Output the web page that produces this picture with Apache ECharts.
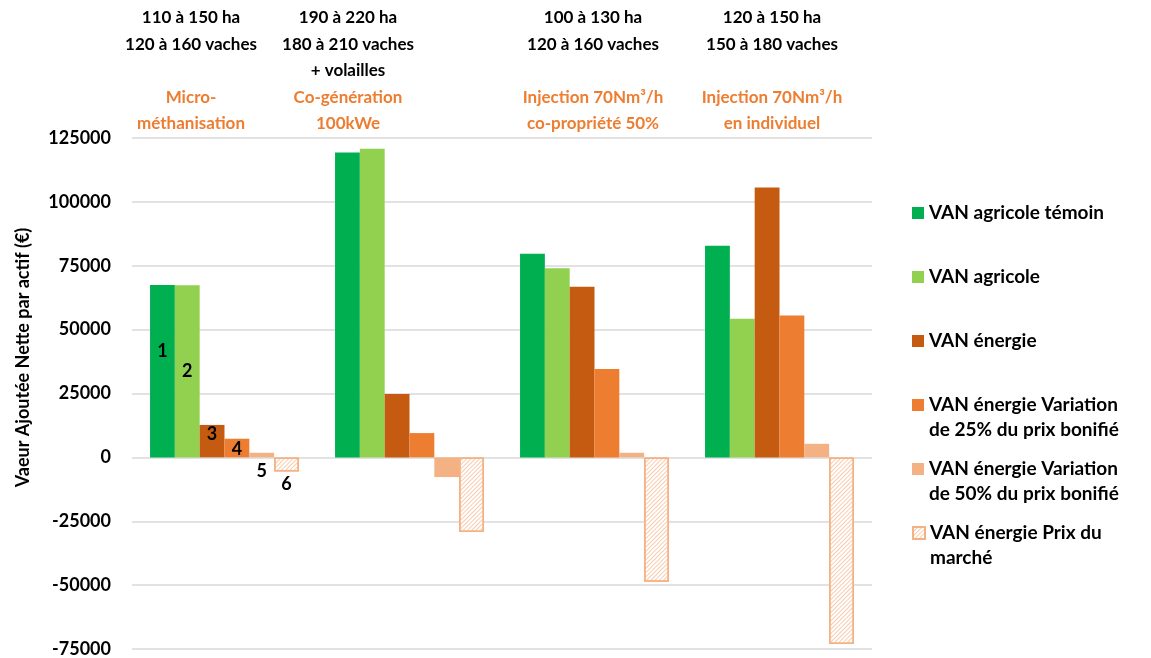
<!DOCTYPE html>
<html>
<head>
<meta charset="utf-8">
<script src="https://cdn.jsdelivr.net/npm/echarts@6/dist/echarts.min.js"></script>
<style>
  html, body { margin: 0; padding: 0; background: #fff; }
  #main { width: 1151px; height: 658px; }
</style>
</head>
<body>
<div id="main"></div>
<script>
// donnees
var categories = ['Micro-méthanisation', 'Co-génération 100kWe', 'Injection 70Nm³/h co-propriété 50%', 'Injection 70Nm³/h en individuel'];
var farmLines = [
	['110 à 150 ha', '120 à 160 vaches', ''],
	['190 à 220 ha', '180 à 210 vaches', '+ volailles'],
	['100 à 130 ha', '120 à 160 vaches', ''],
	['120 à 150 ha', '150 à 180 vaches', '']
];
var typeLines = [
	['Micro-', 'méthanisation'],
	['Co-génération', '100kWe'],
	['Injection 70Nm³/h', 'co-propriété 50%'],
	['Injection 70Nm³/h', 'en individuel']
];
var legendLines = [
	['VAN agricole témoin'],
	['VAN agricole'],
	['VAN énergie'],
	['VAN énergie Variation', 'de 25% du prix bonifié'],
	['VAN énergie Variation', 'de 50% du prix bonifié'],
	['VAN énergie Prix du', 'marché']
];
var vanTemoin   = [67500, 119300, 79700, 82800];
var vanAgricole = [67400, 120800, 74000, 54300];
var vanEnergie  = [12700, 24800, 66800, 105600];
var vanVar25    = [7300, 9500, 34600, 55500];
var vanVar50    = [1800, -7700, 1800, 5300];
var vanMarche   = [-5500, -29200, -48700, -73000];
var barNumbers  = ['1', '2', '3', '4', '5', '6'];
var yMin = -75000, yMax = 125000, yStep = 25000;

var allValues = [vanTemoin, vanAgricole, vanEnergie, vanVar25, vanVar50, vanMarche];
var colors = ['#00b050', '#92d050', '#c55a11', '#ed7d31', '#f4b183', '#ffffff'];
var FONT = 'Lato';

// decalage des textes d'en-tete (zones de texte posees a la main dans l'original)
var headShift = [67, 123, 3, 15];
// position des numeros 1..6 sur le premier groupe
var numLabel = [
	{position: 'inside', offset: [0, -20]},
	{position: 'inside', offset: [0, 0]},
	{position: 'inside', offset: [0, -7]},
	{position: 'inside', offset: [0, 1]},
	{position: 'bottom', distance: 5},
	{position: 'bottom', distance: 4}
];

var rich = {};
for (var i = 0; i < categories.length; i++) {
	rich['b' + i] = {fontFamily: FONT, fontWeight: 'bold', fontSize: 17, color: '#000', lineHeight: 26.5, padding: [0, headShift[i], 0, 0]};
	rich['o' + i] = {fontFamily: FONT, fontWeight: 'bold', fontSize: 17, color: '#ed7d31', lineHeight: 26.5, padding: [0, headShift[i], 0, 0]};
}

var series = [];
for (var s = 0; s < allValues.length; s++) {
	var data = [];
	for (var k = 0; k < allValues[s].length; k++) {
		var item = {value: allValues[s][k]};
		if (k == 0) {
			item.label = {
				show: true,
				formatter: barNumbers[s],
				position: numLabel[s].position,
				offset: numLabel[s].offset,
				distance: numLabel[s].distance,
				fontFamily: FONT, fontWeight: 'bold', fontSize: 18, color: '#000'
			};
		}
		data.push(item);
	}
	var itemStyle = {color: colors[s]};
	if (s == 5) {
		itemStyle = {
			color: '#ffffff',
			borderColor: '#f4b183',
			borderWidth: 1.5,
			decal: {
				symbol: 'rect',
				symbolSize: 1,
				color: '#f8cbad',
				dashArrayX: [1, 0],
				dashArrayY: [1, 2],
				rotation: -Math.PI / 4
			}
		};
	}
	series.push({
		name: legendLines[s].join(' '),
		type: 'bar',
		barGap: 0,
		barCategoryGap: '19.5%',
		itemStyle: itemStyle,
		data: data
	});
}

// une legende par element pour aligner la pastille sur la 1re ligne
var legendIcon = [213, 277, 341, 405, 469, 533];
var legends = [];
for (var j = 0; j < legendLines.length; j++) {
	var twoLines = legendLines[j].length > 1;
	legends.push({
		left: 912,
		top: twoLines ? legendIcon[j] - 37.5 : legendIcon[j] - 12.5,
		orient: 'vertical',
		padding: 0,
		itemWidth: 12,
		itemHeight: 12,
		icon: 'rect',
		selectedMode: false,
		data: [legendLines[j].join(' ')],
		// ligne vide au dessus : la 1re ligne tombe au centre, face a la pastille
		formatter: (function(lines) {
			return function() { return lines.length > 1 ? ' \n' + lines.join('\n') : lines[0]; };
		})(legendLines[j]),
		textStyle: {
			fontFamily: FONT, fontWeight: 'bold', fontSize: 19, color: '#000',
			lineHeight: 25
		}
	});
}

var myChart = echarts.init(document.getElementById('main'));
var option = {
	backgroundColor: '#fff',
	animation: false,
	legend: legends,
	grid: {left: 132, right: 279, top: 138, bottom: 9, containLabel: false},
	xAxis: {
		type: 'category',
		position: 'top',
		data: categories,
		axisLine: {show: false},
		axisTick: {show: false},
		axisLabel: {
			interval: 0,
			margin: 1,
			formatter: function(value, idx) {
				var f = farmLines[idx], t = typeLines[idx];
				var out = [];
				for (var n = 0; n < f.length; n++) out.push('{b' + idx + '|' + (f[n] || ' ') + '}');
				for (var m = 0; m < t.length; m++) out.push('{o' + idx + '|' + t[m] + '}');
				return out.join('\n');
			},
			rich: rich
		}
	},
	yAxis: {
		type: 'value',
		min: yMin,
		max: yMax,
		interval: yStep,
		name: 'Vaeur Ajoutée Nette par actif (€)',
		nameLocation: 'middle',
		nameGap: 100,
		nameTextStyle: {fontFamily: FONT, fontWeight: 'bold', fontSize: 18, color: '#000', padding: [0, 0, 0, 72]},
		axisLine: {show: false},
		axisTick: {show: false},
		axisLabel: {
			fontFamily: FONT, fontWeight: 'bold', fontSize: 18, color: '#000', margin: 21,
			formatter: function(v) { return String(v); }
		},
		splitLine: {lineStyle: {color: '#d9d9d9', width: 1.5}}
	},
	series: series
};
myChart.setOption(option);
</script>
</body>
</html>
